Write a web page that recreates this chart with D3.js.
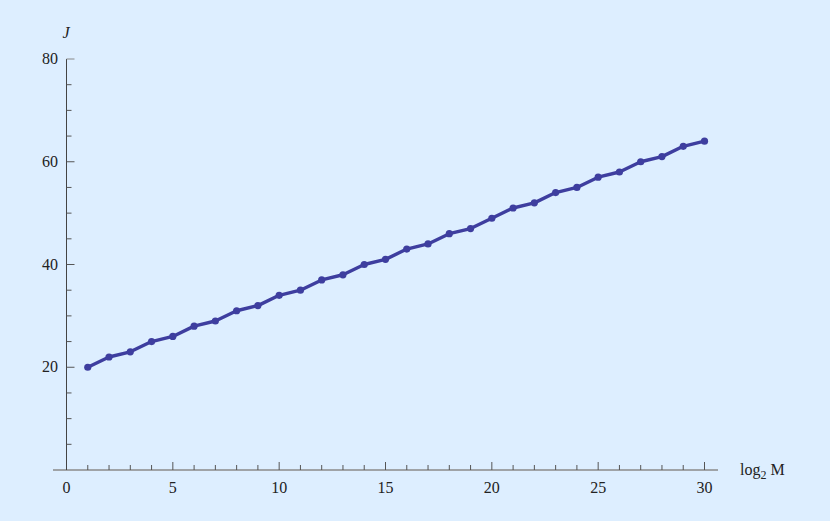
<!DOCTYPE html>
<html lang="en">
<head>
<meta charset="UTF-8">
<script src="https://d3js.org/d3.v7.min.js"></script>
<style>
  body { margin: 0; background: #ddeeff; overflow: hidden; }
  svg { display: block; }
  text { font-family: "Liberation Serif", "Times New Roman", serif; font-size: 16px; fill: #222; }
</style>
</head>
<body>
<svg id="chart" width="830" height="521"></svg>
<script>
// data
const logM = [1,2,3,4,5,6,7,8,9,10,11,12,13,14,15,16,17,18,19,20,21,22,23,24,25,26,27,28,29,30];
const J = [20,22,23,25,26,28,29,31,32,34,35,37,38,40,41,43,44,46,47,49,51,52,54,55,57,58,60,61,63,64];
const xTicks = [0,5,10,15,20,25,30];
const yTicks = [20,40,60,80];

const svg = d3.select("#chart");
const x = d3.scaleLinear().domain([0, 30]).range([66.5, 704.5]);
const y = d3.scaleLinear().domain([0, 80]).range([470, 59]);

// x axis
const gx = svg.append("g");
gx.append("line").attr("x1", 53).attr("x2", 718).attr("y1", y(0)).attr("y2", y(0))
  .attr("stroke", "#8a8a8a").attr("stroke-width", 1.5);
gx.selectAll(".xt").data(d3.range(1, 31)).enter().append("line")
  .attr("x1", d => x(d)).attr("x2", d => x(d))
  .attr("y1", y(0)).attr("y2", d => y(0) - (d % 5 === 0 ? 8 : 5))
  .attr("stroke", "#555").attr("stroke-width", 1);
gx.selectAll(".xl").data(xTicks).enter().append("text")
  .attr("x", d => x(d)).attr("y", y(0) + 23).attr("text-anchor", "middle").text(d => d);
const xl = gx.append("text").attr("x", 740).attr("y", 475);
xl.append("tspan").text("log");
xl.append("tspan").attr("font-size", "12px").attr("dy", 4).text("2");
xl.append("tspan").attr("dy", -4).text(" M");

// y axis
const gy = svg.append("g");
gy.append("line").attr("x1", x(0)).attr("x2", x(0)).attr("y1", y(0)).attr("y2", y(80))
  .attr("stroke", "#444").attr("stroke-width", 1);
gy.selectAll(".yt").data(d3.range(5, 81, 5)).enter().append("line")
  .attr("x1", x(0)).attr("x2", d => x(0) + (d % 20 === 0 ? 8 : 5))
  .attr("y1", d => y(d)).attr("y2", d => y(d))
  .attr("stroke", d => d === 80 ? "#888" : "#555").attr("stroke-width", 1);
gy.selectAll(".yl").data(yTicks).enter().append("text")
  .attr("x", 58).attr("y", d => y(d) + 5).attr("text-anchor", "end").text(d => d);
gy.append("text").attr("x", 66).attr("y", 38).attr("text-anchor", "middle")
  .attr("font-style", "italic").text("J");

// series
const pts = logM.map((d, i) => [d, J[i]]);
svg.append("path").datum(pts)
  .attr("fill", "none").attr("stroke", "#3e3e9f").attr("stroke-width", 3.4)
  .attr("stroke-linejoin", "round")
  .attr("d", d3.line().x(d => x(d[0])).y(d => y(d[1])));
svg.selectAll(".pt").data(pts).enter().append("circle")
  .attr("cx", d => x(d[0])).attr("cy", d => y(d[1])).attr("r", 3.6)
  .attr("fill", "#3e3e9f");
</script>
</body>
</html>
